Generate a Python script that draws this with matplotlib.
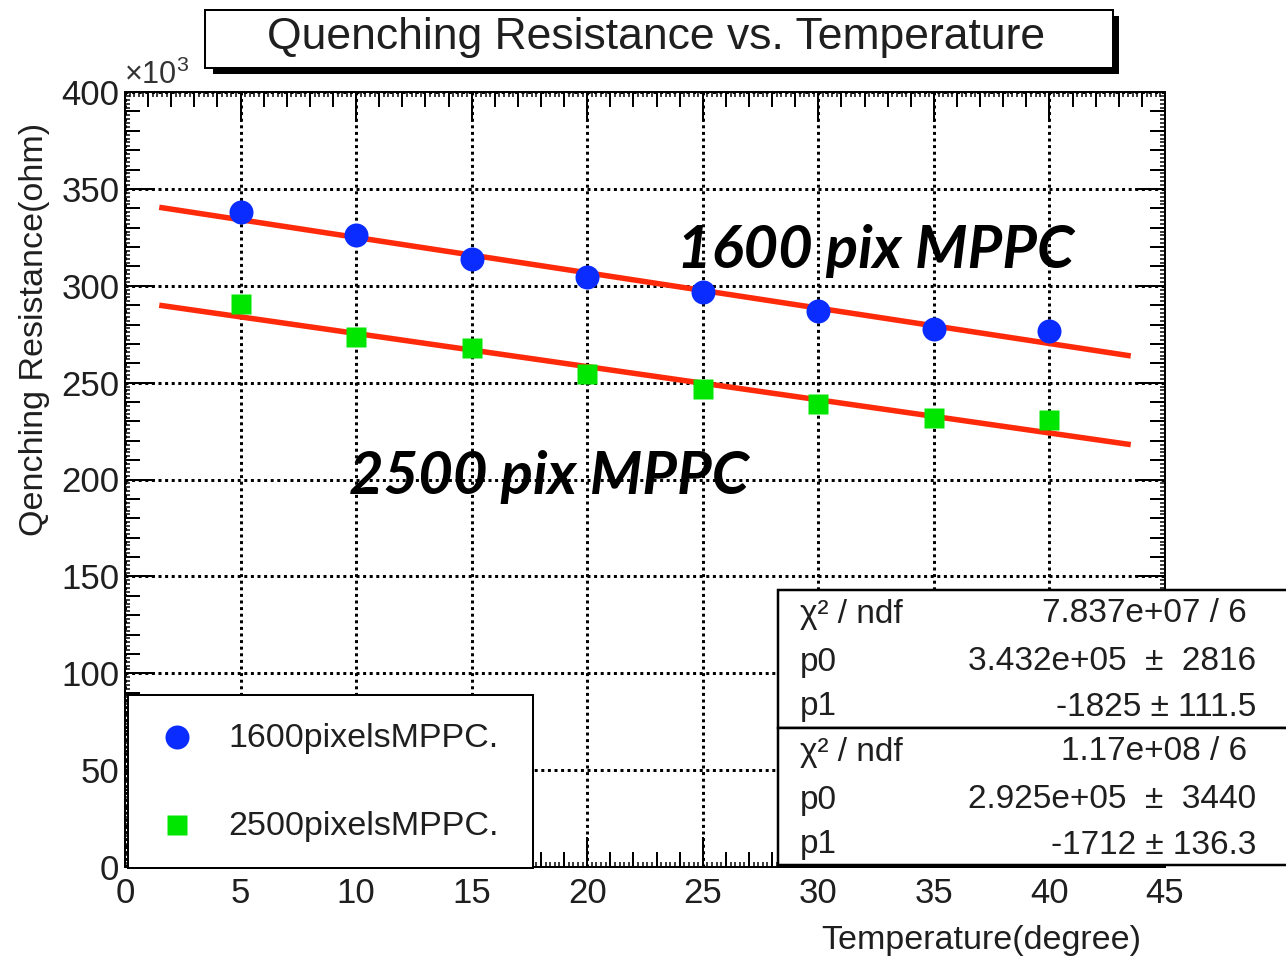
import matplotlib
matplotlib.use('Agg')
import matplotlib.pyplot as plt
import numpy as np
from matplotlib.patches import Rectangle
from matplotlib.lines import Line2D
from matplotlib.ticker import MultipleLocator, NullLocator

# ---------------- data ----------------
temperature = [5, 10, 15, 20, 25, 30, 35, 40]
r1600 = [338.0, 326.0, 314.0, 304.5, 297.0, 287.0, 277.5, 276.5]   # x10^3 ohm
r2500 = [290.5, 273.5, 268.0, 254.5, 246.5, 239.0, 232.0, 230.5]   # x10^3 ohm

series_labels = ["1600pixelsMPPC.", "2500pixelsMPPC."]
annot_labels = ["1600 pix MPPC", "2500 pix MPPC"]

chi2 = ["7.837e+07", "1.17e+08"]
ndf = [6, 6]
p0 = [3.432e+05, 2.925e+05]
p0_err = ["2816", "3440"]
p1 = [-1825, -1712]
p1_err = ["111.5", "136.3"]
p0_txt = ["3.432e+05", "2.925e+05"]

fit_range = [1.6, 43.4]

xticks = list(range(0, 46, 5))
yticks = list(range(0, 401, 50))

# ---------------- style ----------------
W, H = 1286, 959
plt.rcParams['font.family'] = ['Liberation Sans', 'DejaVu Sans']
plt.rcParams['mathtext.fontset'] = 'custom'
plt.rcParams['mathtext.rm'] = 'Liberation Sans'
plt.rcParams['mathtext.it'] = 'Liberation Sans:italic'

def fx(x):
    return x / W

def fy(y):
    return 1 - y / H

PX = 72.0 / 100.0  # points per pixel
TXT = '#1f1f1f'
BLUE = '#0a2cff'
GREEN = '#00e600'
RED = '#ff2a0a'

fig = plt.figure(figsize=(W / 100, H / 100), dpi=100)
rect = [fx(125), fy(867), 1040 / W, 775 / H]
ax = fig.add_axes(rect)

ax.set_xlim(0, 45)
ax.set_ylim(0, 400)
ax.set_xticks(xticks)
ax.set_yticks(yticks)
ax.xaxis.set_minor_locator(MultipleLocator(1))
ax.yaxis.set_minor_locator(MultipleLocator(10))
ax.set_axisbelow(True)
ax.grid(True, which='major', color='black', linestyle=(0, (1.0, 1.2)), lw=3 * PX)
ax.tick_params(which='major', direction='in', length=30 * PX, width=2 * PX,
               top=True, right=True, labelsize=25, colors='black', labelcolor=TXT)
ax.tick_params(which='minor', direction='in', length=15 * PX, width=2 * PX,
               top=True, right=True)
ax.tick_params(axis='x', which='major', pad=7)
ax.tick_params(axis='y', which='major', pad=4)
for s in ax.spines.values():
    s.set_linewidth(2 * PX)

# tiny third-level ticks
ax2 = fig.add_axes(rect)
ax2.set_xlim(0, 45)
ax2.set_ylim(0, 400)
ax2.patch.set_visible(False)
for s in ax2.spines.values():
    s.set_visible(False)
ax2.xaxis.set_major_locator(NullLocator())
ax2.yaxis.set_major_locator(NullLocator())
ax2.xaxis.set_minor_locator(MultipleLocator(0.2))
ax2.yaxis.set_minor_locator(MultipleLocator(2))
ax2.tick_params(which='minor', direction='in', length=5 * PX, width=1.5 * PX,
                top=True, right=True, labelbottom=False, labelleft=False)

# fit lines
xf = np.linspace(fit_range[0], fit_range[1], 50)
for a, b in zip(p0, p1):
    ax.plot(xf, (a + b * xf) / 1000.0, color=RED, lw=5.5 * PX, zorder=3)

# data points
ax.plot(temperature, r1600, linestyle='none', marker='o', ms=24 * PX,
        color=BLUE, mec='none', zorder=4)
ax.plot(temperature, r2500, linestyle='none', marker='s', ms=20 * PX,
        color=GREEN, mec='none', zorder=4)

# annotations
fig.text(fx(677), fy(268), annot_labels[0], family='Lato', weight='bold',
         style='italic', fontsize=43, color='black', va='baseline', ha='left')
fig.text(fx(349), fy(494), annot_labels[1], family='Lato', weight='bold',
         style='italic', fontsize=43, color='black', va='baseline', ha='left')

# axis labels
fig.text(fx(35), fy(123), 'Qenching Resistance(ohm)', rotation=90,
         ha='center', va='top', fontsize=24.5, color=TXT)
fig.text(fx(1141), fy(940), 'Temperature(degree)', ha='right', va='center',
         fontsize=24.5, color=TXT)
fig.text(fx(124), fy(84), '×10$^{3}$', ha='left', va='baseline',
         fontsize=22, color='#333333')

# title box with shadow
fig.add_artist(Rectangle((fx(213), fy(74)), (1119 - 213) / W, (74 - 16) / H,
                         transform=fig.transFigure, facecolor='black',
                         edgecolor='black', lw=0))
fig.add_artist(Rectangle((fx(205), fy(68)), (1113 - 205) / W, (68 - 10) / H,
                         transform=fig.transFigure, facecolor='white',
                         edgecolor='black', lw=2 * PX))
fig.text(fx(656), fy(38), 'Quenching Resistance vs. Temperature',
         ha='center', va='center', fontsize=32, color=TXT)

# legend box
fig.add_artist(Rectangle((fx(128), fy(868)), (533 - 128) / W, (868 - 695) / H,
                         transform=fig.transFigure, facecolor='white',
                         edgecolor='black', lw=2 * PX))
fig.add_artist(Line2D([fx(177)], [fy(737)], transform=fig.transFigure,
                      marker='o', ms=24 * PX, color=BLUE, mec='none', ls='none'))
fig.add_artist(Line2D([fx(177)], [fy(825)], transform=fig.transFigure,
                      marker='s', ms=20 * PX, color=GREEN, mec='none', ls='none'))
fig.text(fx(228), fy(739), series_labels[0], ha='left', va='center',
         fontsize=24.5, color=TXT)
fig.text(fx(228), fy(827), series_labels[1], ha='left', va='center',
         fontsize=24.5, color=TXT)

# stats boxes
box_tops = [590, 728]
box_bots = [728, 865]
for k in range(2):
    fig.add_artist(Rectangle((fx(778), fy(box_bots[k])), (1300 - 778) / W,
                             (box_bots[k] - box_tops[k]) / H,
                             transform=fig.transFigure, facecolor='white',
                             edgecolor='black', lw=2.5 * PX))
    y0 = box_tops[k]
    rows_y = [y0 + 24, y0 + 72, y0 + 117]
    fig.text(fx(800), fy(rows_y[0]), 'χ² / ndf', ha='left', va='center',
             fontsize=24, color=TXT)
    fig.text(fx(800), fy(rows_y[1]), 'p0', ha='left', va='center',
             fontsize=24, color=TXT)
    fig.text(fx(800), fy(rows_y[2]), 'p1', ha='left', va='center',
             fontsize=24, color=TXT)
    fig.text(fx(1247), fy(rows_y[0]), f'{chi2[k]} / {ndf[k]}', ha='right',
             va='center', fontsize=24, color=TXT)
    fig.text(fx(1256), fy(rows_y[1]), f'{p0_txt[k]}  ±  {p0_err[k]}', ha='right',
             va='center', fontsize=24, color=TXT)
    fig.text(fx(1256), fy(rows_y[2]), f'{p1[k]} ± {p1_err[k]}', ha='right',
             va='center', fontsize=24, color=TXT)

fig.savefig('out.png', dpi=100)
